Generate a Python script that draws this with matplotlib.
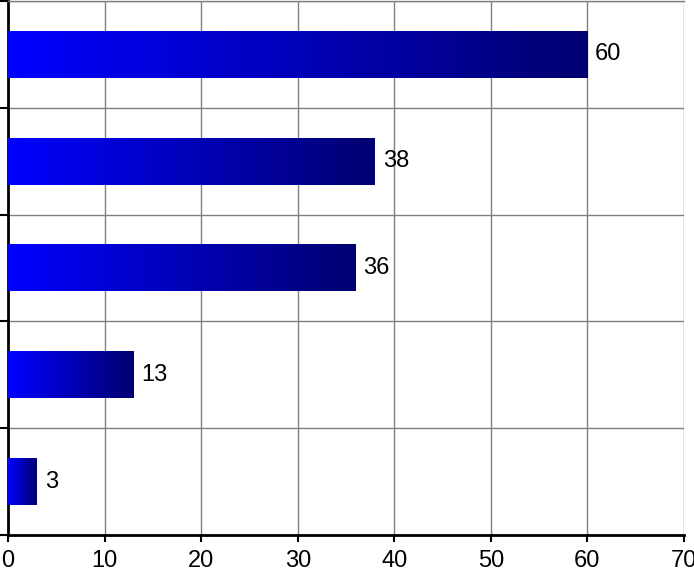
import matplotlib.pyplot as plt
import numpy as np
from matplotlib.colors import LinearSegmentedColormap
from matplotlib import font_manager

# narrow Arial-like face if available, the reference text is tall and thin
names = {f.name for f in font_manager.fontManager.ttflist}
if 'Liberation Sans Narrow' in names:
    plt.rcParams['font.family'] = ['Liberation Sans Narrow', 'DejaVu Sans']
    fsize = 19
else:
    plt.rcParams['font.family'] = ['Liberation Sans', 'DejaVu Sans']
    fsize = 17

# values from bottom to top
values = [3, 13, 36, 38, 60]
x_ticks = [0, 10, 20, 30, 40, 50, 60, 70]

W, H = 694, 574
fig = plt.figure(figsize=(W / 100, H / 100), dpi=100)
ax = fig.add_axes([8 / W, 39 / H, 676 / W, 534 / H])

cmap = LinearSegmentedColormap.from_list('bluegrad', ['#0000ff', '#000070'])
grad = np.linspace(0, 1, 256).reshape(1, -1)

bar_h = 0.44
for i, v in enumerate(values):
    ax.imshow(grad, cmap=cmap, aspect='auto', interpolation='bilinear',
              extent=[0, v, i - bar_h / 2, i + bar_h / 2], zorder=3)
    ax.text(v + 0.8, i, str(v), va='center', ha='left', fontsize=fsize, zorder=4)

ax.set_xlim(0, 70)
ax.set_ylim(-0.5, len(values) - 0.5)

# gridlines
for x in x_ticks[1:]:
    ax.axvline(x, color='#808080', lw=1, zorder=1)
for y in np.arange(0.5, len(values), 1.0):
    ax.axhline(y, color='#808080', lw=1, zorder=1)

ax.set_xticks(x_ticks)
ax.set_xticklabels([str(t) for t in x_ticks], fontsize=fsize)
ax.set_yticks(np.arange(-0.5, len(values), 1.0))
ax.set_yticklabels([])
ax.tick_params(axis='x', direction='out', length=5, width=1.5, pad=6)
ax.tick_params(axis='y', direction='out', length=7, width=1.5)

ax.spines['left'].set_linewidth(2)
ax.spines['bottom'].set_linewidth(2)
ax.spines['right'].set_visible(False)
ax.spines['top'].set_color('#808080')
ax.spines['top'].set_linewidth(1)

fig.savefig('out.png', dpi=100)
